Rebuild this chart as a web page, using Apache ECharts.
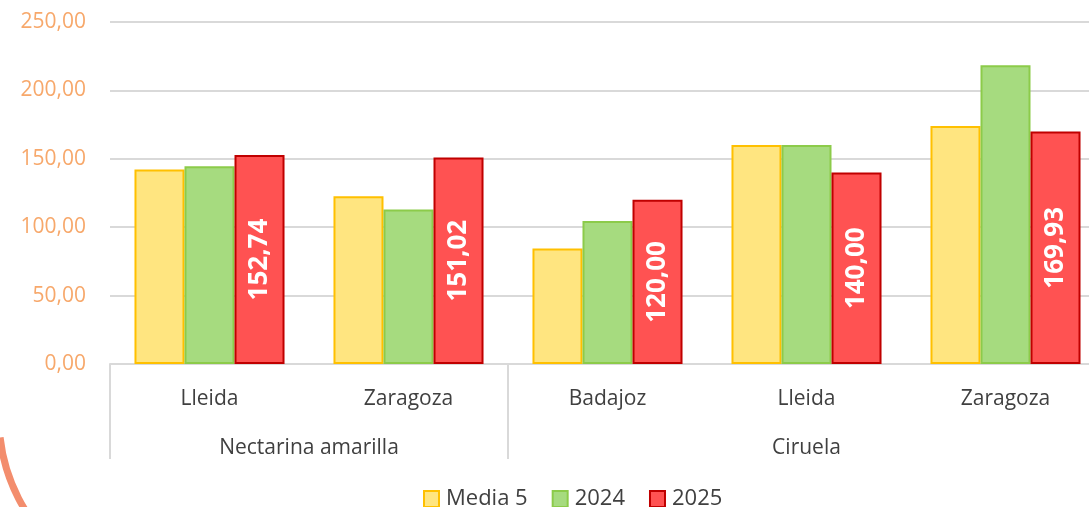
<!DOCTYPE html>
<html>
<head>
<meta charset="utf-8">
<script src="https://cdn.jsdelivr.net/npm/echarts@6/dist/echarts.min.js"></script>
<style>html,body{margin:0;padding:0;background:#fff}#c{width:1089px;height:507px}</style>
</head>
<body>
<div id="c"></div>
<script>
const cities = ['Lleida', 'Zaragoza', 'Badajoz', 'Lleida', 'Zaragoza'];
const groupLabels = ['', '', 'Nectarina amarilla', '', '', '', '', 'Ciruela', '', '', ''];
const groupTickIdx = [0, 4, 10];
const seriesNames = ['Media 5', '2024', '2025'];
const media5 = [142.2, 122.7, 84.5, 160.0, 174.0];
const y2024 = [144.5, 113.0, 104.5, 160.0, 218.4];
const y2025 = [152.74, 151.02, 120.00, 140.00, 169.93];
const yTicks = [0, 50, 100, 150, 200, 250];

const fmt = v => Number(v).toFixed(2).replace('.', ',');
const FONT = 'Open Sans';
const chart = echarts.init(document.getElementById('c'), null, {renderer: 'canvas'});
chart.setOption({
  animation: false,
  textStyle: {fontFamily: FONT},
  graphic: [{
    type: 'arc', z: -1,
    shape: {cx: 174, cy: 418, r: 175, startAngle: 2.3, endAngle: 3.03, clockwise: true},
    style: {fill: 'none', stroke: '#F38D6D', lineWidth: 7}
  }],
  grid: {left: 110, width: 995, top: 22, bottom: 143, containLabel: false, outerBoundsMode: 'none'},
  legend: {
    data: seriesNames, left: 418, top: 483, itemWidth: 15, itemHeight: 16, itemGap: 24,
    textStyle: {fontSize: 22, color: '#404040', fontFamily: FONT, padding: [0, 0, 0, 2]},
    icon: 'rect'
  },
  xAxis: [{
    type: 'category', data: cities, position: 'bottom',
    axisLine: {show: true, lineStyle: {color: '#D9D9D9', width: 2}},
    axisTick: {show: false},
    axisLabel: {color: '#404040', fontSize: 21, margin: 25, fontFamily: FONT}
  }, {
    type: 'category', data: groupLabels, position: 'bottom', boundaryGap: false,
    axisLine: {show: false},
    axisTick: {show: true, length: 95, interval: (i) => groupTickIdx.includes(i),
      lineStyle: {color: '#D9D9D9', width: 2}},
    axisLabel: {color: '#404040', fontSize: 21, margin: 74, interval: 0, fontFamily: FONT}
  }],
  yAxis: {
    type: 'value', min: yTicks[0], max: yTicks[yTicks.length - 1], interval: 50,
    axisLine: {show: false}, axisTick: {show: false},
    axisLabel: {formatter: fmt, color: '#F7A86B', fontSize: 21, margin: 24, fontFamily: FONT},
    splitLine: {lineStyle: {color: '#D9D9D9', width: 2}}
  },
  series: [{
    name: seriesNames[0], type: 'bar', data: media5, barGap: '0%', barCategoryGap: '24.6%',
    itemStyle: {color: '#FFE580', borderColor: '#FFC000', borderWidth: 2}
  }, {
    name: seriesNames[1], type: 'bar', data: y2024,
    itemStyle: {color: '#A6DB7F', borderColor: '#8CCB4A', borderWidth: 2}
  }, {
    name: seriesNames[2], type: 'bar', data: y2025,
    itemStyle: {color: '#FF5252', borderColor: '#C00000', borderWidth: 2},
    label: {show: true, position: 'inside', rotate: 90, formatter: p => fmt(p.value),
      color: '#fff', fontSize: 26, fontWeight: 'bold', fontFamily: FONT}
  }]
});
</script>
</body>
</html>
